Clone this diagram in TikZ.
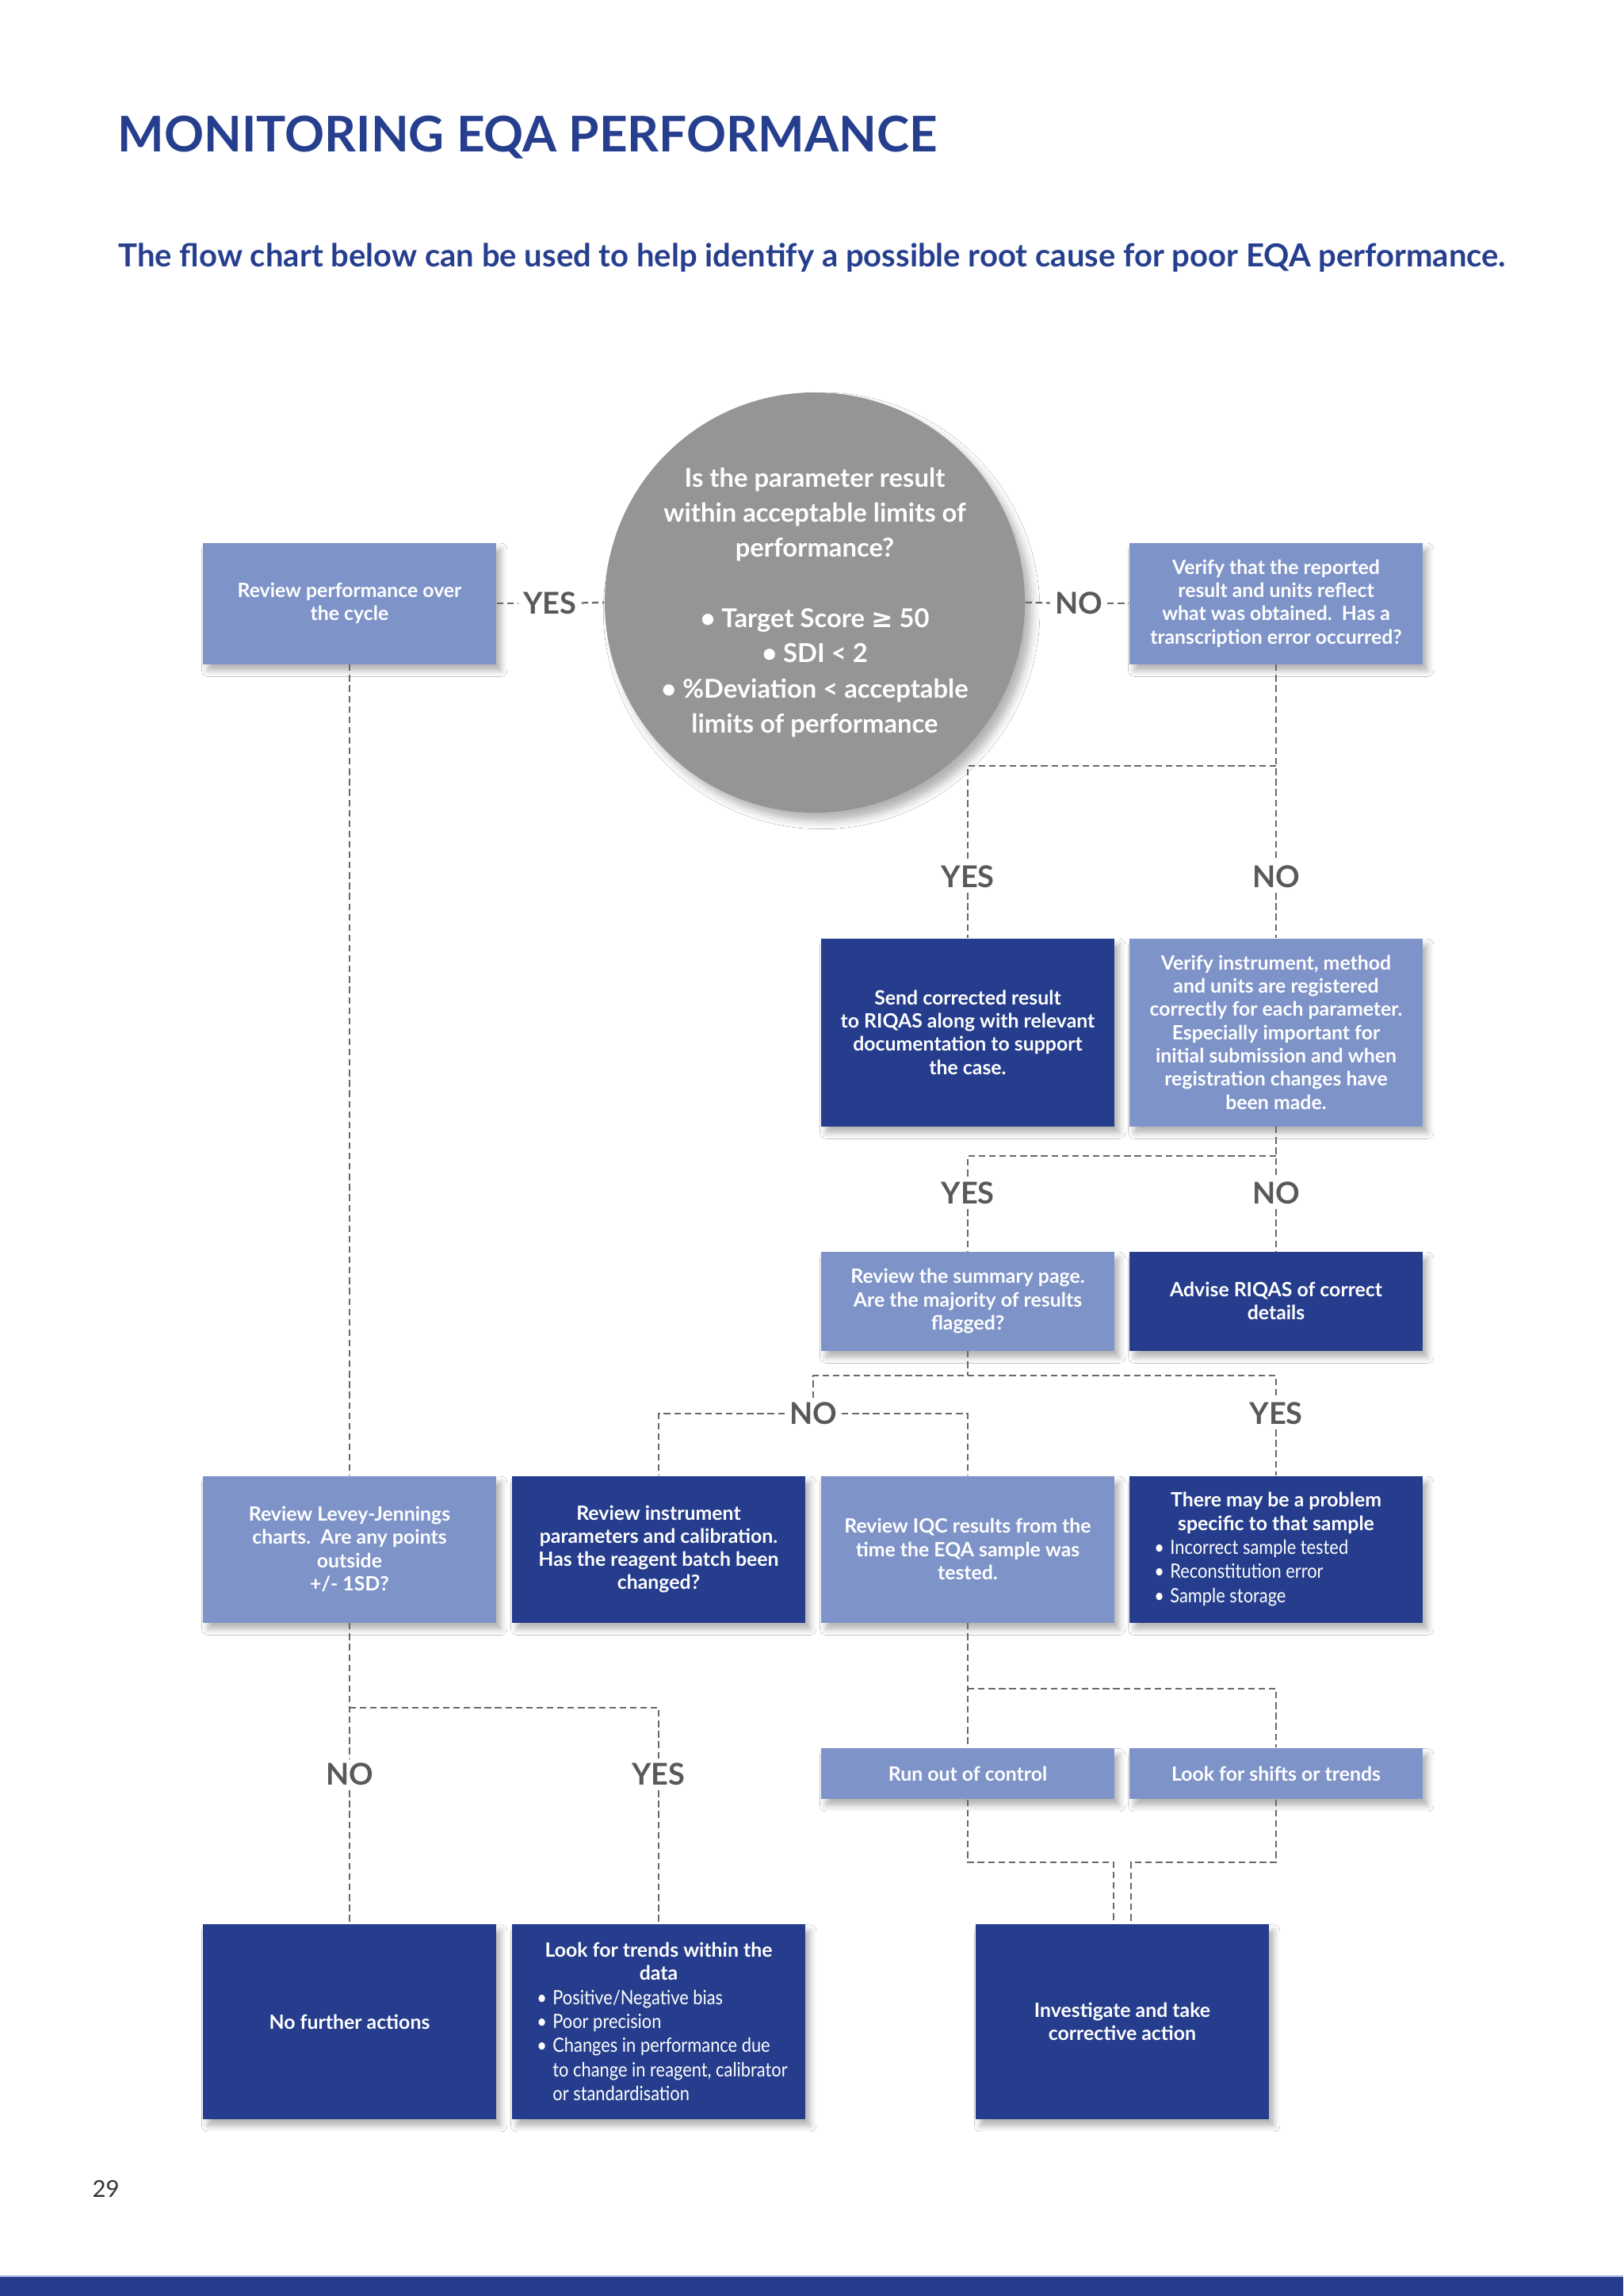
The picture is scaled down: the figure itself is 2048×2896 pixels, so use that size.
\documentclass[tikz,border=0pt]{standalone}
\usepackage{fontspec}
\setmainfont{Lato}
\newfontfamily\symf{DejaVu Sans}
\newfontfamily\narrowf{Lato}[FakeStretch=0.88]
\usetikzlibrary{shadows.blur}
\definecolor{darkblue}{RGB}{37,61,140}
\definecolor{lightblue}{RGB}{126,147,200}
\definecolor{circgray}{RGB}{149,149,149}
\definecolor{lblgray}{RGB}{88,89,91}
\definecolor{linegray}{RGB}{105,105,105}
\definecolor{titleblue}{RGB}{38,62,142}
\definecolor{barline}{RGB}{170,185,225}
\newlength\bw \setlength\bw{5.8pt}
\newcommand\bitem[1]{\par\noindent\makebox[\bw][l]{\textbullet}\mbox{#1}}
\newcommand\bcont[1]{\par\noindent\hspace*{\bw}\mbox{#1}}
\newcommand\bxfont{\fontsize{7.2}{8.5}\selectfont\bfseries}
\newcommand\blfont{\fontsize{7.2}{8.8}\selectfont\mdseries\narrowf}
\begin{document}
\begin{tikzpicture}[x=0.29pt,y=-0.29pt,
  sz/.style n args={2}{minimum width=#1*0.29pt,minimum height=#2*0.29pt},
  box/.style={rectangle,text=white,font=\bxfont,align=center,inner sep=0pt,
    blur shadow={shadow xshift=1.8pt,shadow yshift=-2.4pt,shadow blur radius=2.2pt,shadow opacity=30}},
  lightbox/.style={box,fill=lightblue},
  darkbox/.style={box,fill=darkblue},
  listbox/.style={align=flush left,text width=330*0.29pt},
  circ/.style={circle,fill=circgray,text=white,inner sep=0pt,align=center,
    font=\fontsize{9.5}{12.85}\selectfont\bfseries,
    blur shadow={shadow xshift=2.5pt,shadow yshift=-3pt,shadow blur radius=3pt,shadow opacity=30}},
  lbl/.style={text=lblgray,inner sep=1.6pt,font=\fontsize{11}{12}\selectfont\bfseries},
  dl/.style={draw=linegray,line width=0.65pt,dash pattern=on 2.4pt off 1.4pt},
]
\path[fill=white,use as bounding box] (0,0) rectangle (2048,2896);

% title
\node[anchor=base west,inner sep=0pt,text=titleblue,font=\fontsize{18}{20}\selectfont\bfseries] (title) at (148,192) {MONITORING EQA PERFORMANCE};
\node[anchor=base west,inner sep=0pt,text=titleblue,font=\fontsize{11.6}{13}\selectfont\bfseries] (sub) at (149,337) {The flow chart below can be used to help identify a possible root cause for poor EQA performance.};

% row A
\node[lightbox,sz={370}{153}] (rp) at (441,761) {Review performance over\\the cycle};
\node[circ,minimum size=530*0.29pt] (q) at (1028,760) {Is the parameter result\\within acceptable limits of\\performance?\\[12.85pt]\textbullet{} Target Score {\symf ≥} 50\\\textbullet{} SDI < 2\\\textbullet{} \%Deviation < acceptable\\limits of performance};
\node[lightbox,sz={370}{153}] (vr) at (1610,761) {Verify that the reported\\result and units reflect\\what was obtained.\ \ Has a\\transcription error occurred?};
\node[lbl] (y0) at (694,761) {YES};
\node[lbl] (n0) at (1361,761) {NO};

% row B
\node[darkbox,sz={370}{237}] (sc) at (1221,1302) {Send corrected result\\to RIQAS along with relevant\\documentation to support\\the case.};
\node[lightbox,sz={370}{237}] (vi) at (1610,1302) {Verify instrument, method\\and units are registered\\correctly for each parameter.\\Especially important for\\initial submission and when\\registration changes have\\been made.};
\node[lbl] (y1) at (1221,1106) {YES};
\node[lbl] (n1) at (1610,1106) {NO};
\coordinate (j1) at (1610,966);

% row C
\node[lightbox,sz={370}{125}] (rs) at (1221,1641) {Review the summary page.\\Are the majority of results\\flagged?};
\node[darkbox,sz={370}{125}] (ad) at (1610,1641) {Advise RIQAS of correct\\details};
\node[lbl] (y2) at (1221,1505) {YES};
\node[lbl] (n2) at (1610,1505) {NO};
\coordinate (j2) at (1610,1458);

% row D
\node[lightbox,sz={370}{185}] (lj) at (441,1954) {Review Levey-Jennings\\charts.\ \ Are any points\\outside\\+/- 1SD?};
\node[darkbox,sz={370}{185}] (ri) at (831,1954) {Review instrument\\parameters and calibration.\\Has the reagent batch been\\changed?};
\node[lightbox,sz={370}{185}] (iqc) at (1221,1954) {Review IQC results from the\\time the EQA sample was\\tested.};
\node[darkbox,sz={370}{185},listbox] (pr) at (1610,1954) {{\centering There may be a problem\\specific to that sample\par}\blfont\leftskip=3.3pt
\bitem{Incorrect sample tested}\bitem{Reconstitution error}\bitem{Sample storage}\par};
\node[lbl] (n3) at (1026,1783) {NO};
\node[lbl] (y3) at (1610,1783) {YES};
\coordinate (j3) at (1221,1735);
\coordinate (h3a) at (1026,1735);
\coordinate (h3b) at (1610,1735);
\coordinate (c3a) at (831,1783);
\coordinate (c3b) at (1221,1783);

% row E
\node[lightbox,sz={370}{64}] (ro) at (1221,2237) {Run out of control};
\node[lightbox,sz={370}{64}] (ls) at (1610,2237) {Look for shifts or trends};
\node[lbl] (n4) at (441,2238) {NO};
\node[lbl] (y4) at (831,2238) {YES};
\coordinate (j4) at (441,2154);
\coordinate (c4) at (831,2154);
\coordinate (j5) at (1221,2130);

% row F
\node[darkbox,sz={370}{246}] (nf) at (441,2550) {No further actions};
\node[darkbox,sz={370}{246},listbox] (lt) at (831,2550) {{\centering Look for trends within the\\data\par}\blfont\leftskip=3.3pt
\bitem{Positive/Negative bias}\bitem{Poor precision}\bitem{Changes in performance due}\bcont{to change in reagent, calibrator}\bcont{or standardisation}\par};
\node[darkbox,sz={370}{246}] (inv) at (1416,2550) {Investigate and take\\corrective action};
\coordinate (k1) at (1221,2349);
\coordinate (k2) at (1405,2349);
\coordinate (k3) at (1610,2349);
\coordinate (k4) at (1427,2349);

% connectors
\draw[dl] (rp.east) -- (y0);
\draw[dl] (y0) -- (q.west);
\draw[dl] (q.east) -- (n0);
\draw[dl] (n0) -- (vr.west);
\draw[dl] (rp.south) -- (lj.north);
\draw[dl] (vr.south) -- (n1);
\draw[dl] (j1) -| (y1);
\draw[dl] (y1) -- (sc.north);
\draw[dl] (n1) -- (vi.north);
\draw[dl] (vi.south) -- (n2);
\draw[dl] (j2) -| (y2);
\draw[dl] (y2) -- (rs.north);
\draw[dl] (n2) -- (ad.north);
\draw[dl] (rs.south) -- (j3);
\draw[dl] (n3) -- (h3a) -- (h3b) -- (y3);
\draw[dl] (y3) -- (pr.north);
\draw[dl] (n3) -- (c3a) -- (ri.north);
\draw[dl] (n3) -- (c3b) -- (iqc.north);
\draw[dl] (lj.south) -- (n4);
\draw[dl] (n4) -- (nf.north);
\draw[dl] (j4) -- (c4) -- (y4);
\draw[dl] (y4) -- (lt.north);
\draw[dl] (iqc.south) -- (ro.north);
\draw[dl] (j5) -| (ls.north);
\draw[dl] (ro.south) -- (k1) -- (k2) -- (k2 |- inv.north);
\draw[dl] (ls.south) -- (k3) -- (k4) -- (k4 |- inv.north);

% footer
\node[anchor=base west,inner sep=0pt,text=black!80,font=\fontsize{8.5}{10}\selectfont] (pg) at (116,2771) {29};
\fill[darkblue] (0,2872) rectangle (2048,2896);
\draw[barline,line width=0.5pt] (0,2871) -- (2048,2871);
\end{tikzpicture}
\end{document}
